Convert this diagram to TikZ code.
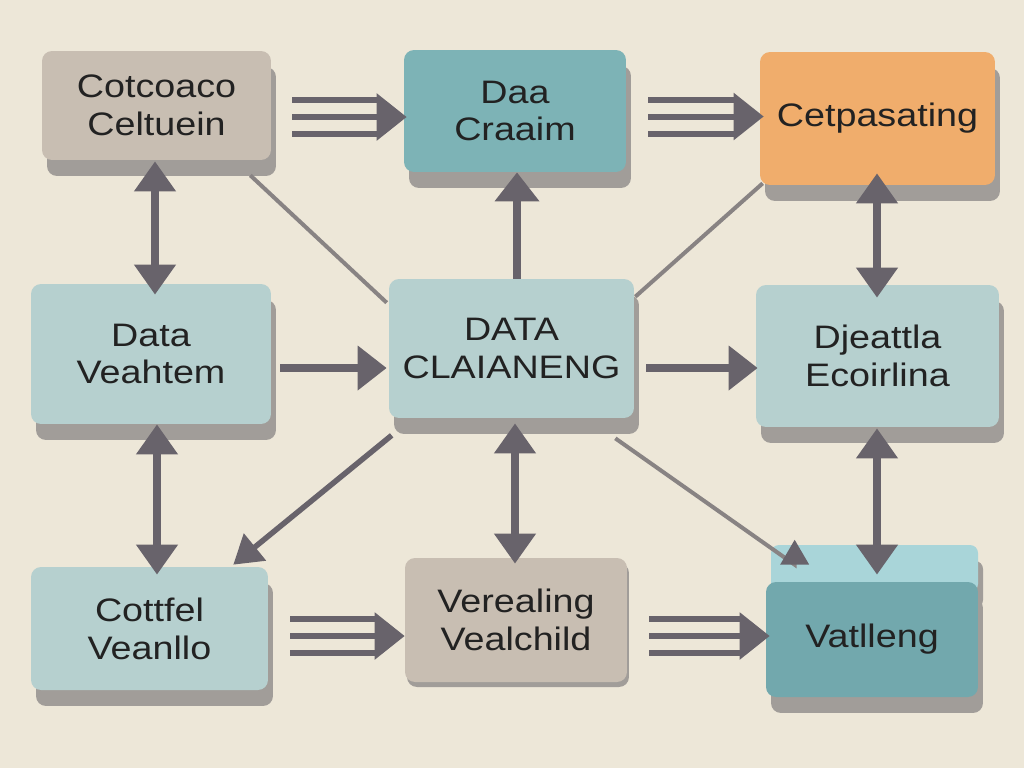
\documentclass[tikz,border=0pt]{standalone}
\usepackage{fontspec}
\setmainfont[FakeStretch=1.16]{Liberation Sans}
\usetikzlibrary{calc,arrows.meta,shadows}
\definecolor{bgc}{RGB}{237,231,216}
\definecolor{tanc}{RGB}{200,190,178}
\definecolor{tealc}{RGB}{125,179,182}
\definecolor{orangec}{RGB}{240,173,108}
\definecolor{lightc}{RGB}{182,208,207}
\definecolor{darktealc}{RGB}{114,168,173}
\definecolor{lidc}{RGB}{169,213,217}
\definecolor{shadowc}{RGB}{161,157,153}
\definecolor{arrowc}{RGB}{104,99,107}
\definecolor{linec}{RGB}{136,131,131}
\definecolor{textc}{RGB}{34,34,34}
\def\triarrow(#1)(#2){%
	\draw[tri] ($(#1)+(0,-17)$) -- ($(#2)+(-30,-17)$);
	\draw[tri] ($(#1)+(0,17)$) -- ($(#2)+(-30,17)$);
	\draw[tri,-{Triangle[length=0.6cm,width=0.92cm]}] (#1) -- (#2);}

\begin{document}
\begin{tikzpicture}[x=0.02cm, y=-0.02cm,
	box/.style={rounded corners=0.2cm, inner sep=0pt, align=center, text=textc, font=\fontsize{18.5}{21.5}\selectfont},
	deep/.style={general shadow={shadow xshift=0.1cm, shadow yshift=-0.32cm, fill=shadowc}},
	shallow/.style={general shadow={shadow xshift=0.04cm, shadow yshift=-0.1cm, fill=shadowc}},
	tri/.style={line width=0.12cm, arrowc},
	dbl/.style={line width=0.16cm, arrowc, {Triangle[length=0.6cm,width=0.8cm]}-{Triangle[length=0.6cm,width=0.8cm]}},
	sgl/.style={line width=0.16cm, arrowc, -{Triangle[length=0.58cm,width=0.86cm]}},
	link/.style={line width=0.08cm, linec},
	diag/.style={line width=0.11cm, arrowc, -{Triangle[length=0.56cm,width=0.68cm]}}]
			%%%%% START %%%%%
			
			\fill[bgc] (0,0) rectangle (1024,768);
			\useasboundingbox (0,0) rectangle (1024,768);
			
			\node[box, deep, fill=tanc, minimum width=4.58cm, minimum height=2.18cm] (b1) at (156.5,105.5) {Cotcoaco\\Celtuein};
			\node[box, deep, fill=tealc, minimum width=4.44cm, minimum height=2.44cm] (b2) at (515,111) {Daa\\Craaim};
			\node[box, deep, fill=orangec, minimum width=4.70cm, minimum height=2.66cm] (b3) at (877.5,118.5) {Cetpasating};
			
			\node[box, deep, fill=lightc, minimum width=4.80cm, minimum height=2.80cm] (b4) at (151,354) {Data\\Veahtem};
			\node[box, deep, fill=lightc, minimum width=4.90cm, minimum height=2.78cm] (b5) at (511.5,348.5) {DATA\\CLAIANENG};
			\node[box, deep, fill=lightc, minimum width=4.86cm, minimum height=2.84cm] (b6) at (877.5,356) {Djeattla\\Ecoirlina};
			
			\node[box, deep, fill=lightc, minimum width=4.74cm, minimum height=2.46cm] (b7) at (149.5,628.5) {Cottfel\\Veanllo};
			\node[box, shallow, fill=tanc, minimum width=4.44cm, minimum height=2.48cm] (b8) at (516,620) {Verealing\\Vealchild};
			\fill[lidc, deep, rounded corners=0.16cm] (771,545) rectangle (978,592);
			\node[box, deep, fill=darktealc, minimum width=4.24cm, minimum height=2.30cm] (b9) at (872,639.5) {Vatlleng};
			
			\draw[link] ($(b1.south east)+(-21,15)$) -- ($(b5.north west)+(-2,24)$);
			\draw[link] ($(b3.south west)+(3,-2)$) -- ($(b5.north east)+(1,18)$);
			\draw[diag] ($(b5.south west)+(3,17)$) -- ($(b7.north east)+(-35,-2)$);
			\draw[link, -{Triangle[length=0.5cm,width=0.56cm,color=arrowc]}] ($(b5.south east)+(-19,20)$) -- ($(b9.north west)+(29,-17)$) -- ($(b9.north west)+(29,-42)$);
			
			\coordinate (t12) at ($(b1.east)+(21,11.5)$);
			\coordinate (t12e) at ($(t12 -| b2.west)+(3,0)$);
			\triarrow(t12)(t12e)
			\coordinate (t23) at ($(b2.east)+(22,5.5)$);
			\coordinate (t23e) at ($(t23 -| b3.west)+(4,0)$);
			\triarrow(t23)(t23e)
			\coordinate (t78) at ($(b7.east)+(22,7.5)$);
			\coordinate (t78e) at (t78 -| b8.west);
			\triarrow(t78)(t78e)
			\coordinate (t89) at ($(b8.east)+(22,16)$);
			\coordinate (t89e) at ($(t89 -| b9.west)+(4,0)$);
			\triarrow(t89)(t89e)
			
			\coordinate (h45) at ($(b4.east)+(9,14)$);
			\coordinate (h45e) at ($(h45 -| b5.west)+(-2,0)$);
			\draw[sgl] (h45) -- (h45e);
			\coordinate (h56) at ($(b5.east)+(12,19.5)$);
			\coordinate (h56e) at ($(h56 -| b6.west)+(2,0)$);
			\draw[sgl] (h56) -- (h56e);
			\draw[sgl] ($(b5.north)+(5.5,0)$) -- ($(b5.north |- b2.south)+(5.5,0)$);
			
			\draw[dbl] ($(b1.south)+(-1.5,1)$) -- ($(b1.south |- b4.north)+(-1.5,11)$);
			\draw[dbl] ($(b4.south)+(6,0)$) -- ($(b4.south |- b7.north)+(6,8)$);
			\draw[dbl] ($(b3.south)+(-0.5,-12)$) -- ($(b3.south |- b6.north)+(-0.5,13)$);
			\draw[dbl] ($(b6.south)+(-0.5,1)$) -- ($(b6.south |- b9.north)+(-0.5,-7)$);
			\draw[dbl] ($(b5.south)+(3.5,5)$) -- ($(b5.south |- b8.north)+(3.5,6)$);
			
			%%%%% END %%%%%
\end{tikzpicture}
\end{document}
